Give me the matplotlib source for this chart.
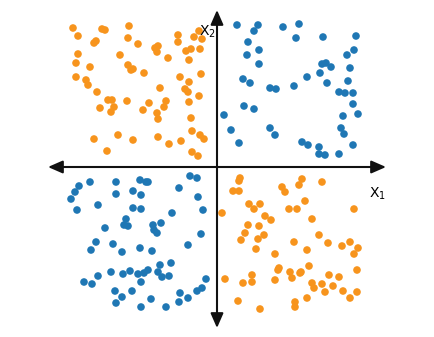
import matplotlib
matplotlib.use('Agg')
import matplotlib.pyplot as plt

# class A (orange): quadrants II and IV
orange_x = [-144, -139, -115, -112, -88, -89, -123, -121, -79, -39, -39, -23, -15, -18,
            -139, -141, -127, -97, -62, -59, -60, -49, -31, -26, -17, -28, -89, -86, -84, -73,
            -141, -131, -129, -120, -37, -28, -16, -57, -32, -29, -109, -105, -90, -117, -103,
            -106, -74, -68, -60, -59, -53, -51, -28, -18, -26, -25, -123, -99, -84, -59, -48,
            -36, -17, -13, -110, -25, -19,
            23, 22, 16, 22, 65, 68, 85, 82, 105, 5, 32, 37, 43, 48, 54, 72, 80, 88, 137,
            31, 42, 28, 24, 41, 47, 95, 102, 111, 77, 39, 58, 90, 125, 133, 141, 137,
            62, 61, 73, 75, 83, 84, 92, 140, 8, 26, 35, 35, 58, 95, 97, 105, 112, 116, 122,
            108, 126, 140, 133, 21, 43, 78, 78, 90]
orange_y = [139, 131, 138, 137, 141, 129, 124, 126, 123, 132, 125, 130, 128, 136,
            113, 104, 100, 112, 119, 121, 115, 109, 116, 118, 118, 107, 102, 97, 98, 94,
            90, 87, 82, 75, 90, 85, 93, 79, 78, 75, 67, 67, 66, 59, 60,
            55, 57, 64, 54, 48, 60, 66, 65, 71, 49, 36, 28, 32, 27, 30, 23,
            26, 32, 28, 16, 15, 11,
            -11, -14, -24, -24, -20, -25, -12, -18, -15, -46, -37, -42, -37, -49, -53, -42, -42, -34, -42,
            -58, -59, -66, -73, -72, -68, -52, -68, -76, -75, -82, -87, -83, -79, -75, -81, -87,
            -101, -103, -105, -111, -106, -105, -99, -103, -112, -116, -108, -115, -113, -116, -121, -117, -108, -119, -110,
            -125, -124, -125, -131, -134, -142, -135, -140, -131]

# class B (blue): quadrants I and III
blue_x = [20, 41, 37, 66, 82, 79, 106, 139, 31, 42, 30, 42, 130, 137, 105, 109, 114, 103,
          133, 26, 33, 90, 110, 131, 53, 59, 77, 122, 128, 136, 27, 37, 136, 7, 126, 141,
          14, 53, 58, 124, 127, 22, 85, 91, 102, 102, 108, 122, 136,
          -138, -127, -142, -146, -140, -101, -77, -71, -69, -101, -84, -76, -119, -84, -76,
          -27, -20, -38, -19, -14, -45, -91, -93, -89, -64, -56, -63, -60, -112, -16, -121,
          -126, -104, -95, -77, -65, -29, -57, -46, -119, -133, -125, -106, -94, -87, -79,
          -73, -69, -59, -55, -48, -76, -11, -102, -85, -95, -101, -66, -76, -51, -37, -38,
          -29, -20, -15]
blue_y = [142, 142, 136, 140, 143, 129, 130, 131, 125, 117, 112, 103, 112, 117, 103, 104, 100, 94,
          99, 88, 84, 90, 84, 86, 79, 78, 81, 75, 74, 74, 61, 58, 63, 52, 51, 53,
          37, 39, 32, 39, 33, 24, 25, 22, 20, 13, 12, 13, 22,
          -19, -15, -25, -32, -43, -15, -13, -15, -15, -27, -24, -28, -38, -41, -42,
          -9, -11, -21, -30, -43, -46, -52, -58, -59, -58, -56, -63, -66, -61, -67, -75,
          -83, -77, -85, -81, -84, -78, -98, -96, -109, -115, -117, -105, -107, -104, -107,
          -106, -103, -105, -110, -109, -115, -112, -124, -124, -130, -136, -132, -140, -140, -126, -135,
          -131, -124, -121]

fig = plt.figure(figsize=(4.34, 3.37), dpi=100)
ax = fig.add_axes([0, 0, 1, 1])
ax.set_xlim(-217, 217)
ax.set_ylim(-170, 167)
ax.axis('off')

ax.scatter(orange_x, orange_y, s=30, color='#f7941d', edgecolors='none', zorder=2)
ax.scatter(blue_x, blue_y, s=30, color='#1f77b4', edgecolors='none', zorder=2)

arrow = dict(arrowstyle='<|-|>,head_length=0.8,head_width=0.35', color='#111111',
             lw=1.5, mutation_scale=11, shrinkA=0, shrinkB=0)
ax.annotate('', xy=(169, 0), xytext=(-169, 0), arrowprops=arrow, zorder=3)
ax.annotate('', xy=(0, 157), xytext=(0, -161), arrowprops=arrow, zorder=3)

ax.text(160, -27, r'X$_1$', fontsize=10, ha='center', va='center', zorder=4)
ax.text(-10, 135, r'X$_2$', fontsize=10, ha='center', va='center', zorder=4)

fig.savefig('out.png', dpi=100)
